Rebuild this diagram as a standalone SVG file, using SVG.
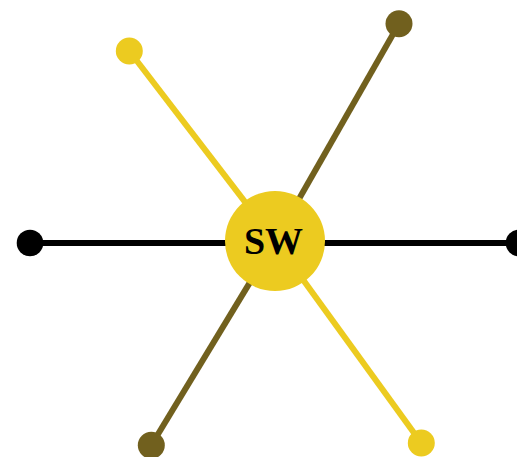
<svg xmlns="http://www.w3.org/2000/svg" width="517" height="457" viewBox="0 0 517 457">
<style>
.e{stroke-width:6;fill:none}
.y{stroke:#ECCB20}
.o{stroke:#71601E}
.k{stroke:#000}
.fy{fill:#ECCB20}
.fo{fill:#71601E}
.fk{fill:#000}
.lbl{font-family:"Liberation Serif","Times New Roman",serif;font-weight:bold;font-size:38px;fill:#000;text-anchor:middle}
</style>
<rect width="517" height="457" fill="#fff"/>
<g id="connectors">
<line class="e k" x1="275" y1="243" x2="30" y2="243"/>
<line class="e k" x1="275" y1="243" x2="519" y2="243"/>
<line class="e y" x1="275" y1="241" x2="129.3" y2="51"/>
<line class="e y" x1="275" y1="241" x2="421.3" y2="443"/>
<line class="e o" x1="275" y1="241" x2="399" y2="23.7"/>
<line class="e o" x1="275" y1="241" x2="151.3" y2="445.3"/>
</g>
<g id="node-left"><circle class="fk" cx="30" cy="243" r="13.3"/></g>
<g id="node-right"><circle class="fk" cx="519" cy="243" r="13.3"/></g>
<g id="node-yellow-top"><circle class="fy" cx="129.3" cy="51" r="13.5"/></g>
<g id="node-yellow-bottom"><circle class="fy" cx="421.3" cy="443" r="13.5"/></g>
<g id="node-olive-top"><circle class="fo" cx="399" cy="23.7" r="13.5"/></g>
<g id="node-olive-bottom"><circle class="fo" cx="151.3" cy="445.3" r="13.5"/></g>
<g id="node-SW">
<circle class="fy" cx="275" cy="241" r="50"/>
<text class="lbl" x="273.5" y="254">SW</text>
</g>
</svg>
